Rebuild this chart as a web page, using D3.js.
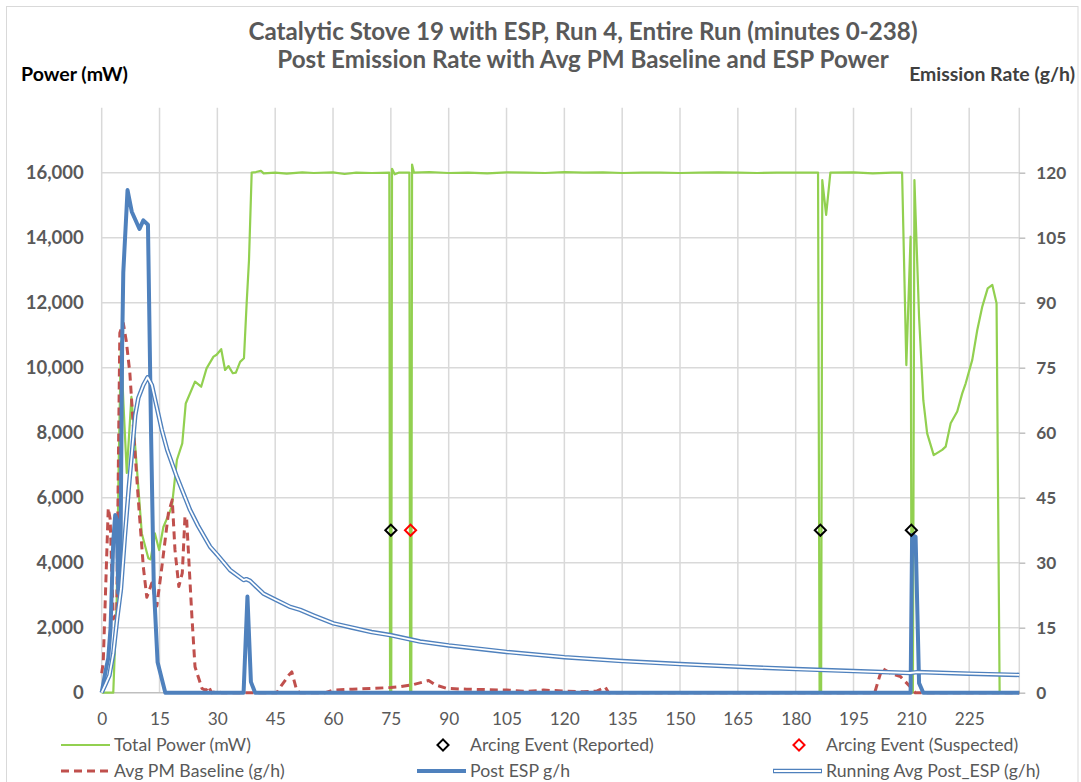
<!DOCTYPE html>
<html><head><meta charset="utf-8">
<script src="https://cdn.jsdelivr.net/npm/d3@7"></script>
<style>body{margin:0;background:#fff}svg{display:block}</style>
</head><body><svg id="c" width="1081" height="782"></svg>
<script>
// ---------- data ----------
const titleLines = ["Catalytic Stove 19 with ESP, Run 4, Entire Run (minutes 0-238)",
                    "Post Emission Rate with Avg PM Baseline and ESP Power"];
const xTicks = [0,15,30,45,60,75,90,105,120,135,150,165,180,195,210,225];
const leftTicks = [0,2000,4000,6000,8000,10000,12000,14000,16000];
const rightTicks = [0,15,30,45,60,75,90,105,120];

// Total Power (mW)
const powerMin = [0,3,3.9,4.4,5.0,5.6,6.5,7.7,9.1,10.4,12.1,12.7,13.8,14.9,16,18.2,19.5,20.9,21.8,24.2,25.8,27.2,29,29.8,31,32,32.9,34,34.8,35.9,36.9,37.6,38.2,38.9,40,41.3,42,45,48,52,55,60,63,66,70,74.6,74.8,75.1,75.3,76,77,79.8,80.0,80.3,80.5,81,85,90,95,100,105,110,115,120,125,130,135,140,145,150,155,160,165,170,175,180,185.8,186.2,186.6,186.9,187.9,189,195,200,205,207.6,208.7,209.8,210.1,210.4,210.8,212,213.1,214.1,215.8,218,218.9,220.2,221.9,223.2,224.1,225.8,227.1,228.4,229.8,231,232.1,232.9,238];
const powerMW = [0,0,2850,7000,10800,9000,6760,9100,6950,4900,4135,4100,4900,4390,5100,5720,7160,7670,8900,9570,9415,9980,10340,10400,10570,9930,10050,9830,9850,10180,10290,11990,13300,16000,16020,16060,15980,16000,15970,16010,15990,16010,15960,16000,15990,16000,0,0,16120,15950,16000,16000,0,0,16250,16000,16020,15990,16000,15980,16010,16000,15990,16020,16000,16010,15990,16000,16000,15990,16000,16010,16000,15990,16000,16000,16000,0,0,15775,14700,16000,16010,15980,16000,16000,10080,14030,0,0,15775,11570,9000,7980,7310,7470,7570,8290,8650,9210,9520,10240,11160,11880,12440,12545,11980,0,0];

// Arcing events (mW axis)
const reportedMin = [75, 186.4, 210];
const reportedMW = [5000, 5000, 5000];
const suspectedMin = [80.1];
const suspectedMW = [5000];

// Avg PM Baseline (g/h)
const baseMin = [0,0.4,1.7,2.2,3,3.9,4.7,5.6,6.4,7.3,8.6,9.5,10.8,11.7,13,14.3,15.6,17.3,18.3,19,20,20.9,21.6,22,22.7,23.4,24.2,26,27,27.7,28.5,30,31,45.4,46.5,48.5,49.3,50.6,51.5,58,60,65,70.5,75,77.5,80.9,84.8,86.5,89.5,94.7,99.9,105.1,110.3,114.6,119.4,125,128.5,130.6,131.5,200.5,201.5,202.4,204.6,207.2,209.7,211,238];
const baseGH = [4.5,7,42.6,40,17,18.4,83,85.3,81,73.8,56,44.5,29,22,25.3,20,29,41.4,44.5,33,24.5,27.6,40.6,40.6,29,17.5,6,1,0.5,1.5,0,0.3,0,0,1.5,4,4.8,0.5,0,0,0.6,0.8,1,1.2,1.4,1.9,2.8,1.8,1,0.8,0.7,0.6,0.3,0.6,0.4,0.2,0.4,1.3,0,0,3,5.6,4.5,3.7,1.4,0,0];

// Post ESP (g/h)
const postMin = [0,1,1.7,2.3,3,3.5,3.9,4.3,4.8,5.3,5.6,6.7,7.8,9.8,10.8,12,12.8,13.5,14.5,16.5,36.8,37.8,38.7,39.8,209.8,210.2,211.1,212,213.1,238];
const postGH = [0,5,8,15,35,41,40,23,23,80,97,116,111,107,109,108,60,25,7,0,0,22.2,2.5,0,0,36.4,36,2.2,0,0];

// Running Avg Post_ESP (g/h)
const runMin = [0,1,2,3,4,5,6,7,8,8.7,9.5,10.8,11.9,13,14,15.6,17,19.5,22.9,25,28.1,30,33.3,36.8,37.5,38.5,41.9,45,48.9,51.5,55,60.1,65,70,74.8,82.6,90,105,120,135,150,165,180,195,209.7,211.5,225,238];
const runGH = [0,2,4,9,17,24,36,47,57,64,68,71,72.8,71,67,60.6,56,49.8,42.2,38.5,33.7,31.8,28.3,26,26.2,25.8,22.9,21.5,19.8,19.1,17.8,16,15,14,13.3,11.8,10.9,9.4,8.2,7.3,6.6,6,5.45,5,4.55,4.75,4.4,4.1];

const legendItems = [
  {label:"Total Power (mW)", kind:"line", color:"#92d050", col:0, row:0},
  {label:"Arcing Event (Reported)", kind:"diamond", color:"#000000", col:1, row:0},
  {label:"Arcing Event (Suspected)", kind:"diamond", color:"#ff0000", col:2, row:0},
  {label:"Avg PM Baseline (g/h)", kind:"dash", color:"#c0504d", col:0, row:1},
  {label:"Post ESP g/h", kind:"thick", color:"#4f81bd", col:1, row:1},
  {label:"Running Avg Post_ESP (g/h)", kind:"double", color:"#4f81bd", col:2, row:1}
];

// ---------- layout ----------
const FF = "Lato, 'Open Sans', sans-serif";
const svg = d3.select('#c');
const P = {l:101.7, r:1019.3, t:107.7, b:692.7};
const x = d3.scaleLinear().domain([0,238]).range([P.l,P.r]);
const yL = d3.scaleLinear().domain([0,18000]).range([P.b,P.t]);
const yR = d3.scaleLinear().domain([0,135]).range([P.b,P.t]);

function fit(str, weight, target){
  const t = svg.append('text').attr('font-family',FF).attr('font-weight',weight).attr('font-size',100).text(str);
  const w = t.node().getComputedTextLength(); t.remove();
  return 100*target/w;
}

svg.append('rect').attr('x',0).attr('y',0).attr('width',1081).attr('height',782).attr('fill','#fff');
svg.append('rect').attr('x',6.5).attr('y',6.5).attr('width',1071.5).attr('height',800)
  .attr('fill','none').attr('stroke','#d9d9d9').attr('stroke-width',1);

// title
const tSize = Math.min(fit(titleLines[0],'bold',684), fit(titleLines[1],'bold',612));
svg.selectAll('.title').data(titleLines).join('text')
  .attr('x',583).attr('y',(d,i)=>32+i*28).attr('dy','0.35em')
  .attr('text-anchor','middle').attr('font-family',FF).attr('font-weight','bold')
  .attr('font-size',tSize).attr('fill','#595959').text(d=>d);

// axis titles
svg.append('text').attr('x',21).attr('y',74).attr('dy','0.35em').attr('font-family',FF)
  .attr('font-weight','bold').attr('font-size',fit("Power (mW)",'bold',107)).attr('fill','#000').text("Power (mW)");
svg.append('text').attr('x',1075).attr('y',74).attr('dy','0.35em').attr('text-anchor','end').attr('font-family',FF)
  .attr('font-weight','bold').attr('font-size',fit("Emission Rate (g/h)",'bold',166)).attr('fill','#404040').text("Emission Rate (g/h)");

// gridlines
const g = svg.append('g');
g.selectAll('.hg').data(leftTicks.filter(d=>d>0)).join('line')
  .attr('x1',P.l).attr('x2',P.r).attr('y1',d=>yL(d)).attr('y2',d=>yL(d))
  .attr('stroke','#d9d9d9').attr('stroke-width',1.5);
g.selectAll('.vg').data(xTicks).join('line')
  .attr('x1',d=>x(d)).attr('x2',d=>x(d)).attr('y1',P.t).attr('y2',P.b)
  .attr('stroke','#d9d9d9').attr('stroke-width',1.5);
g.append('line').attr('x1',P.r).attr('x2',P.r).attr('y1',P.t).attr('y2',P.b).attr('stroke','#d9d9d9').attr('stroke-width',1.5);
g.append('line').attr('x1',P.l).attr('x2',P.r).attr('y1',P.b).attr('y2',P.b).attr('stroke','#bfbfbf').attr('stroke-width',1.5);

// axes
const axL = svg.append('g').attr('transform',`translate(${P.l-18},0)`)
  .call(d3.axisLeft(yL).tickValues(leftTicks).tickFormat(d3.format(',')).tickSize(0).tickPadding(0));
axL.select('.domain').remove();
axL.selectAll('text').attr('font-family',FF).attr('font-weight','bold').attr('font-size',fit("16,000",'bold',58)).attr('fill','#595959');

const axR = svg.append('g').attr('transform',`translate(${P.r},0)`)
  .call(d3.axisRight(yR).tickValues(rightTicks).tickSize(6).tickPadding(11));
axR.select('.domain').remove();
axR.selectAll('line').attr('stroke','#bfbfbf').attr('stroke-width',1.5);
axR.selectAll('text').attr('font-family',FF).attr('font-weight','bold').attr('font-size',fit("120",'bold',30)).attr('fill','#595959');

const axB = svg.append('g').attr('transform',`translate(0,${P.b})`)
  .call(d3.axisBottom(x).tickValues(xTicks).tickSize(0).tickPadding(20));
axB.select('.domain').remove();
axB.selectAll('text').attr('font-family',FF).attr('font-size',fit("225",'normal',30)).attr('fill','#595959');

// ---------- series ----------
const lineL = d3.line().x(d=>x(d[0])).y(d=>yL(d[1]));
const lineR = d3.line().x(d=>x(d[0])).y(d=>yR(d[1]));
const zip = (a,b)=>a.map((v,i)=>[v,b[i]]);

const plot = svg.append('g');
plot.append('path').datum(zip(powerMin,powerMW)).attr('d',lineL)
  .attr('fill','none').attr('stroke','#92d050').attr('stroke-width',2.2).attr('stroke-linejoin','round');
plot.append('path').datum(zip(baseMin,baseGH)).attr('d',lineR)
  .attr('fill','none').attr('stroke','#c0504d').attr('stroke-width',3).attr('stroke-dasharray','8,5').attr('stroke-linejoin','round');
plot.append('path').datum(zip(postMin,postGH)).attr('d',lineR)
  .attr('fill','none').attr('stroke','#4f81bd').attr('stroke-width',4).attr('stroke-linejoin','round');
const runData = zip(runMin,runGH);
plot.append('path').datum(runData).attr('d',lineR)
  .attr('fill','none').attr('stroke','#4f81bd').attr('stroke-width',4.5).attr('stroke-linejoin','round');
plot.append('path').datum(runData).attr('d',lineR)
  .attr('fill','none').attr('stroke','#fff').attr('stroke-width',1.8).attr('stroke-linejoin','round');

const diamond = d3.symbol().type(d3.symbolSquare).size(62);
plot.selectAll('.rep').data(zip(reportedMin,reportedMW)).join('path')
  .attr('d',diamond).attr('transform',d=>`translate(${x(d[0])},${yL(d[1])}) rotate(45)`)
  .attr('fill','none').attr('stroke','#000').attr('stroke-width',2);
plot.selectAll('.sus').data(zip(suspectedMin,suspectedMW)).join('path')
  .attr('d',diamond).attr('transform',d=>`translate(${x(d[0])},${yL(d[1])}) rotate(45)`)
  .attr('fill','none').attr('stroke','#ff0000').attr('stroke-width',2);

// ---------- legend ----------
const colX = [61, 417, 773];
const rowY = [745, 771];
const legSize = fit("Total Power (mW)",'normal',137);
const lg = svg.append('g');
legendItems.forEach(it=>{
  const x0 = colX[it.col], y0 = rowY[it.row];
  if(it.kind==='line') lg.append('line').attr('x1',x0).attr('x2',x0+49).attr('y1',y0).attr('y2',y0).attr('stroke',it.color).attr('stroke-width',2.2);
  if(it.kind==='dash') lg.append('line').attr('x1',x0).attr('x2',x0+49).attr('y1',y0).attr('y2',y0).attr('stroke',it.color).attr('stroke-width',3).attr('stroke-dasharray','8,5');
  if(it.kind==='thick') lg.append('line').attr('x1',x0).attr('x2',x0+49).attr('y1',y0).attr('y2',y0).attr('stroke',it.color).attr('stroke-width',4);
  if(it.kind==='double'){
    lg.append('line').attr('x1',x0).attr('x2',x0+49).attr('y1',y0).attr('y2',y0).attr('stroke',it.color).attr('stroke-width',4.5);
    lg.append('line').attr('x1',x0+1).attr('x2',x0+48).attr('y1',y0).attr('y2',y0).attr('stroke','#fff').attr('stroke-width',1.8);
  }
  if(it.kind==='diamond') lg.append('path').attr('d',diamond).attr('transform',`translate(${x0+26},${y0}) rotate(45)`)
    .attr('fill','none').attr('stroke',it.color).attr('stroke-width',2);
  lg.append('text').attr('x',x0+53).attr('y',y0).attr('dy','0.35em').attr('font-family',FF)
    .attr('font-size',legSize).attr('fill','#595959').text(it.label);
});
</script>
</body></html>
